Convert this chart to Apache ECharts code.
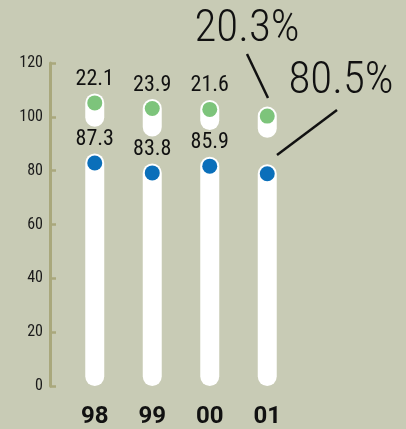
<!DOCTYPE html>
<html>
<head>
<meta charset="utf-8">
<script src="https://cdn.jsdelivr.net/npm/echarts@6/dist/echarts.min.js"></script>
<style>
  html, body { margin: 0; padding: 0; background: #c8cbb5; }
  #chart { width: 406px; height: 429px; }
</style>
</head>
<body>
<div id="chart"></div>
<script>
// years on the x axis
const years = ['98', '99', '00', '01'];
// printed values (the 01 column is annotated with big percentages instead)
const lowerLabels = ['87.3', '83.8', '85.9', ''];
const upperLabels = ['22.1', '23.9', '21.6', ''];
const bigUpper = '20.3%';
const bigLower = '80.5%';
// heights of the white shapes
const lowerTop = [86.4, 82.7, 85.2, 82.4];
const capBottom = [96.3, 92.7, 95.1, 92.2];
const capTop = [108.7, 106.6, 106.3, 103.8];
const yTicks = [0, 20, 40, 60, 80, 100, 120];

const axisColor = '#a9a87c';
const font = '"Roboto Condensed", "Liberation Sans", sans-serif';

// stacked pieces: white bar, transparent gap, white capsule
const gap = capBottom.map((v, i) => +(v - lowerTop[i]).toFixed(1));
const cap = capTop.map((v, i) => +(v - capBottom[i]).toFixed(1));

const chart = echarts.init(document.getElementById('chart'));

const valueLabel = texts => ({
  show: true,
  position: 'top',
  distance: 3,
  color: '#111',
  fontFamily: font,
  fontSize: 22,
  formatter: p => texts[p.dataIndex]
});

const option = {
  backgroundColor: '#c8cbb5',
  animation: false,
  grid: { left: 66, right: 110, top: 63, bottom: 43, outerBoundsMode: 'none', containLabel: false },
  xAxis: {
    type: 'category',
    data: years,
    axisLine: { show: false },
    axisTick: { show: false },
    axisLabel: {
      color: '#111',
      fontFamily: 'Roboto, sans-serif',
      fontWeight: 'bold',
      fontSize: 24,
      margin: 19
    }
  },
  yAxis: {
    type: 'value',
    min: yTicks[0],
    max: yTicks[yTicks.length - 1],
    interval: 20,
    offset: 16,
    splitLine: { show: false },
    axisLine: { show: true, lineStyle: { color: axisColor, width: 3 } },
    axisTick: { show: true, inside: true, length: 6, lineStyle: { color: axisColor, width: 2.5 } },
    axisLabel: { color: '#1a1a1a', fontFamily: font, fontSize: 16, margin: 7 }
  },
  series: [
    {
      type: 'bar',
      stack: 'col',
      barWidth: 19,
      data: lowerTop,
      itemStyle: { color: '#fff', borderRadius: 9.5 },
      label: valueLabel(lowerLabels)
    },
    {
      type: 'bar',
      stack: 'col',
      barWidth: 19,
      data: gap,
      itemStyle: { color: 'rgba(0,0,0,0)' }
    },
    {
      type: 'bar',
      stack: 'col',
      barWidth: 19,
      data: cap,
      itemStyle: { color: '#fff', borderRadius: 9.5 },
      label: valueLabel(upperLabels)
    },
    {
      type: 'scatter',
      data: lowerTop,
      symbolSize: 15,
      symbolOffset: [0, 9.5],
      itemStyle: { color: '#0a6fba', opacity: 1 },
      z: 5
    },
    {
      type: 'scatter',
      data: capTop,
      symbolSize: 15,
      symbolOffset: [0, 9.5],
      itemStyle: { color: '#7dc47b', opacity: 1 },
      z: 5
    }
  ],
  graphic: [
    { type: 'line', shape: { x1: 247, y1: 54, x2: 268, y2: 98 }, style: { stroke: '#111', lineWidth: 2.5 } },
    { type: 'line', shape: { x1: 337, y1: 110, x2: 277, y2: 155 }, style: { stroke: '#111', lineWidth: 2.5 } },
    {
      type: 'text', x: 247, y: 30,
      style: { text: bigUpper, fontFamily: font, fontWeight: 300, fontSize: 45, fill: '#111', align: 'center', verticalAlign: 'middle' }
    },
    {
      type: 'text', x: 341, y: 82,
      style: { text: bigLower, fontFamily: font, fontWeight: 300, fontSize: 45, fill: '#111', align: 'center', verticalAlign: 'middle' }
    }
  ]
};

chart.setOption(option);
</script>
</body>
</html>
